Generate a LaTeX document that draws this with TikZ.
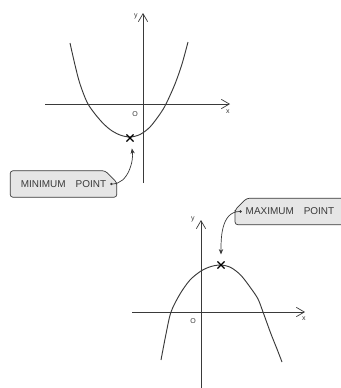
\documentclass[tikz,border=0pt]{standalone}
\usepackage{fontspec}
\setmainfont{Liberation Sans}
\usepackage{tikz}
\usetikzlibrary{arrows.meta,positioning,shapes.misc}
\definecolor{inkgray}{HTML}{3A3A3A}
\definecolor{tagfill}{HTML}{E6E6E6}
\tikzset{
  gr/axis/.style={draw=inkgray, line width=0.6pt, -{Straight Barb[length=2.4mm,width=2.8mm]}},
  gr/curve/.style={draw=inkgray, line width=0.8pt},
  gr/lbl/.style={font=\fontsize{6}{7}\selectfont, text=inkgray, inner sep=0pt},
  gr/xmark/.style={cross out, draw=black, line width=1pt, minimum size=5pt, inner sep=0pt},
  gr/tag/.style={chamfered rectangle, chamfered rectangle xsep=5pt, chamfered rectangle ysep=5pt,
    draw=inkgray, fill=tagfill, line width=0.6pt, rounded corners=2.5pt,
    minimum height=7.6mm, font=\fontsize{8.5}{10}\selectfont, text=inkgray},
  gr/pointer/.style={draw=inkgray, line width=0.6pt, {Circle[length=2pt]}-{Stealth[length=1.6mm,width=1.3mm]}, shorten >=6pt}
}

\begin{document}
\begin{tikzpicture}[x=0.03cm, y=-0.03cm]
  \clip (0,0) rectangle (341,388);
  % upper graph: minimum
  \draw[gr/axis] (45,104) -- (230,104);
  \draw[gr/axis] (143,183) -- (143,13);
  \node[gr/lbl] (xa) at (228,112) {x};
  \node[gr/lbl] (ya) at (136,16) {y};
  \node[gr/lbl] (oa) at (135,114) {O};
  \draw[gr/curve] plot[smooth] coordinates {(70,43) (75,65) (80,84) (88,104) (100,120) (110,129.5)
    (120,135) (130,137) (140,134.5) (150,127) (160,114) (166,104) (175,84) (182,64) (188,42)};
  \node[gr/xmark] (minpt) at (130,138) {};
  \node[gr/tag, chamfered rectangle corners=north east, minimum width=3.2cm] (mintag) at (63.5,184) {MINIMUM\quad POINT};
  \draw[gr/pointer] ([xshift=-6pt]mintag.east) to[out=0, in=-80] (minpt);
  % lower graph: maximum
  \draw[gr/axis] (132,312) -- (305,312);
  \draw[gr/axis] (201,392) -- (201,220);
  \node[gr/lbl] (xb) at (304,319) {x};
  \node[gr/lbl] (yb) at (193,219) {y};
  \node[gr/lbl] (ob) at (193,321) {O};
  \draw[gr/curve] plot[smooth] coordinates {(161,360) (166,334) (171,312) (180,294) (190,280) (201,271)
    (211,266.5) (221,265) (231,267.6) (241,275.4) (251,288.4) (258,299) (263,312) (271,334) (277,349) (282,362)};
  \node[gr/xmark] (maxpt) at (221,265) {};
  \node[gr/tag, chamfered rectangle corners=north west, minimum width=3.3cm] (maxtag) at (290,211.5) {MAXIMUM\quad POINT\hspace{1.2em}};
  \draw[gr/pointer] ([xshift=6pt]maxtag.west) to[out=180, in=90] (maxpt);
\end{tikzpicture}
\end{document}
